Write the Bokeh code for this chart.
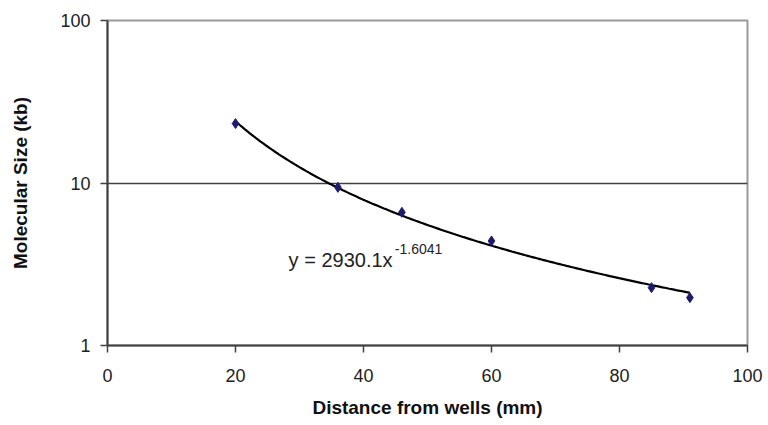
import numpy as np
from bokeh.plotting import figure
from bokeh.models import FixedTicker, Label, NumeralTickFormatter, Range1d
from bokeh.embed import file_html
from bokeh.resources import INLINE

# Data
distance_mm = [20, 36, 46, 60, 85, 91]
size_kb = [23.2, 9.4, 6.6, 4.4, 2.27, 1.97]

# Power trendline shown on the chart: y = 2930.1 x^-1.6041
trend_a = 2930.1
trend_b = -1.6041
trend_x_start = 20
trend_x_end = 91

x_ticks = [0, 20, 40, 60, 80, 100]
y_ticks = [1, 10, 100]

FONT = "Liberation Sans"

p = figure(width=768, height=425, y_axis_type="log",
           x_range=Range1d(0, 100), y_range=Range1d(1, 100),
           output_backend="svg", toolbar_location=None,
           min_border_left=107, min_border_right=21,
           min_border_top=20, min_border_bottom=80)
p.background_fill_color = "white"
p.border_fill_color = "white"
p.outline_line_color = "#9a9a9a"
p.outline_line_width = 2

# axes
p.xaxis.ticker = FixedTicker(ticks=x_ticks)
p.yaxis.ticker = FixedTicker(ticks=y_ticks)
p.yaxis.formatter = NumeralTickFormatter(format="0")
for ax in (p.xaxis, p.yaxis):
    ax.axis_line_color = "#404040"
    ax.axis_line_width = 2
    ax.major_tick_line_color = "#404040"
    ax.major_tick_line_width = 1.5
    ax.major_tick_in = 0
    ax.major_tick_out = 7
    ax.minor_tick_line_color = None
    ax.major_label_text_font = FONT
    ax.major_label_text_font_size = "18px"
    ax.major_label_text_color = "#222222"
    ax.axis_label_text_font = FONT
    ax.axis_label_text_font_style = "bold"
    ax.axis_label_text_font_size = "19px"
    ax.axis_label_text_color = "#111111"

p.xaxis.axis_label = "Distance from wells (mm)"
p.yaxis.axis_label = "Molecular Size (kb)"
p.xaxis.major_label_standoff = 16
p.yaxis.major_label_standoff = 10
p.xaxis.axis_label_standoff = 12
p.yaxis.axis_label_standoff = 26

# grid: only horizontal line at 10
p.xgrid.grid_line_color = None
p.ygrid.ticker = FixedTicker(ticks=[10])
p.ygrid.grid_line_color = "#404040"
p.ygrid.grid_line_width = 1.5

# trendline
tx = np.linspace(trend_x_start, trend_x_end, 200)
ty = trend_a * tx ** trend_b
p.line(tx, ty, line_color="black", line_width=2.2)

# data points
p.scatter(distance_mm, size_kb, marker="diamond", size=10,
          fill_color="#1c1c6b", line_color="#1c1c6b")

# equation label
p.add_layout(Label(x=28.3, y=3.34, text="y = 2930.1x", text_font=FONT,
                   text_font_size="20px", text_color="#222222",
                   text_baseline="middle", text_align="left"))
p.add_layout(Label(x=44.9, y=3.95, text="-1.6041", text_font=FONT,
                   text_font_size="14px", text_color="#222222",
                   text_baseline="middle", text_align="left"))

open("out.html", "w").write(file_html(p, INLINE))
